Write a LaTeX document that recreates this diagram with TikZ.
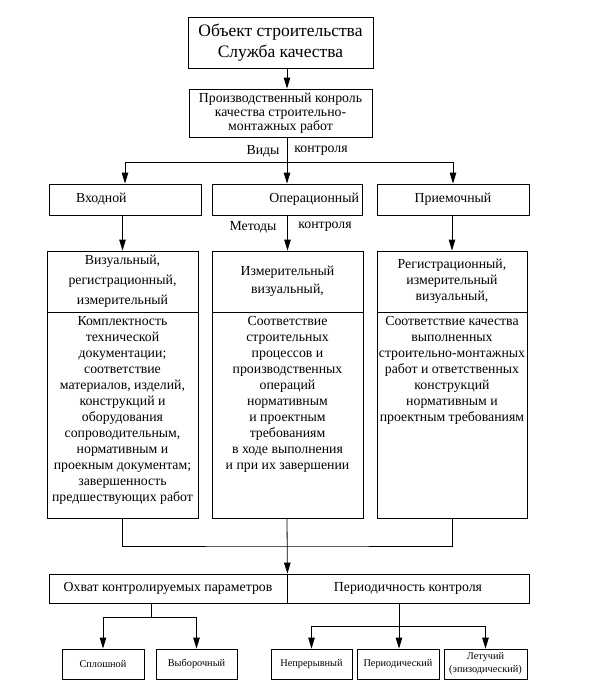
\documentclass[tikz,border=0pt]{standalone}
\usepackage{fontspec}
\setmainfont{Liberation Serif}
\usetikzlibrary{arrows.meta}

\tikzset{
  box/.style={draw, line width=0.8pt, inner sep=2pt, align=center,
    font=\fontsize{13.8}{16}\selectfont},
  txt/.style={inner sep=2pt, align=center, font=\fontsize{13.8}{16}\selectfont},
  small/.style={font=\fontsize{10.3}{12}\selectfont},
  lbl/.style={inner sep=1pt, font=\fontsize{13.8}{16}\selectfont},
  ln/.style={line width=0.8pt},
  arr/.style={line width=0.8pt, -{Triangle[length=11pt,width=6.5pt]}}
}

\begin{document}
\begin{tikzpicture}[x=1pt,y=-1pt]
\useasboundingbox (0,0) rectangle (599,696);

% guide points
\coordinate (ax) at (287,0);
\coordinate (vk) at (287,162);
\coordinate (sb) at (287,546);
\coordinate (c1) at (151,617);
\coordinate (c2) at (399,626);

% top boxes
\node[box, minimum width=185, minimum height=51,
  font=\fontsize{17.5}{21}\selectfont] (obj) at (280.5,42.5)
  {Объект строительства\\Служба качества};
\node[box, minimum width=183, minimum height=48, inner sep=1pt,
  font=\fontsize{13.8}{14}\selectfont] (pk) at (280.5,113)
  {Производственный конроль\\качества строительно-\\монтажных работ};

% kinds of control
\node[box, minimum width=152, minimum height=31,
  text width=148pt, align=left] (vhod) at (125,199.5) {\hspace*{25pt}Входной};
\node[box, minimum width=150, minimum height=31,
  text width=144pt, align=right] (oper) at (287,199.5) {Операционный};
\node[box, minimum width=152, minimum height=31] (pri) at (453,199.5) {Приемочный};

\node[lbl] (vidy) at (263,151) {Виды};
\node[lbl] (vidyk) at (321,151) {контроля};
\node[lbl] (met) at (253,227) {Методы};
\node[lbl] (metk) at (325,227) {контроля};

% methods
\node[box, minimum width=151, minimum height=61,
  font=\fontsize{13.8}{20}\selectfont] (vhodM) at (122.5,281.5)
  {Визуальный,\\регистрационный,\\измерительный};
\node[box, minimum width=151, minimum height=61,
  font=\fontsize{13.8}{18}\selectfont] (operM) at (287.5,281.5)
  {Измерительный\\визуальный,};
\node[box, minimum width=150, minimum height=61] (priM) at (452,281.5)
  {Регистрационный,\\измерительный\\визуальный,};

% contents
\node[box, minimum width=151, minimum height=206] (vhodC) at (122.5,415) {};
\node[box, minimum width=151, minimum height=206] (operC) at (287.5,415) {};
\node[box, minimum width=150, minimum height=206] (priC) at (452,415) {};

\node[txt, anchor=north, yshift=-3pt] (vhodT) at (vhodC.north)
  {Комплектность\\технической\\документации;\\соответствие\\материалов, изделий,\\
   конструкций и\\оборудования\\сопроводительным,\\нормативным и\\
   проекным документам;\\завершенность\\предшествующих работ};
\node[txt, anchor=north, yshift=-3pt] (operT) at (operC.north)
  {Соответствие\\строительных\\процессов и\\производственных\\операций\\
   нормативным\\и проектным\\требованиям\\в ходе выполнения\\и при их завершении};
\node[txt, anchor=north, yshift=-3pt] (priT) at (priC.north)
  {Соответствие качества\\выполненных\\строительно-монтажных\\работ и ответственных\\
   конструкций\\нормативным и\\проектным требованиям};

% parameters
\node[box, minimum width=238, minimum height=29] (ohv) at (168,588.5)
  {Охват контролируемых параметров};
\node[box, minimum width=242, minimum height=29] (per) at (408,588.5)
  {Периодичность контроля};

\node[box, small, minimum width=82, minimum height=30] (spl) at (103,664) {Сплошной};
\node[box, small, minimum width=81, minimum height=30] (vyb) at (196.5,664) {Выборочный};
\node[box, small, minimum width=81, minimum height=30] (nep) at (311.5,664) {Непрерывный};
\node[box, small, minimum width=82, minimum height=30] (prd) at (398,664) {Периодический};
\node[box, small, minimum width=83, minimum height=30,
  font=\fontsize{10.3}{13}\selectfont] (let) at (485.5,664) {Летучий\\(эпизодический)};

% connectors
\draw[arr] (obj.south -| ax) -- (pk.north -| ax);
\draw[ln] (pk.south -| ax) -- (vk);
\draw[arr] (vk) -| (vhod.north);
\draw[arr] (vk) -- (oper.north);
\draw[arr] (vk) -| (pri.north);

\draw[arr] (vhod.south -| vhodM) -- (vhodM.north);
\draw[arr] (oper.south -| operM) -- (operM.north);
\draw[arr] (pri.south -| priM) -- (priM.north);

\draw[ln] (vhodC.south) |- (sb) -| (priC.south);
\draw[arr] (operC.south -| ax) -- (ohv.north east);

\draw[ln] (ohv.south -| c1) -- (c1);
\draw[arr] (c1) -| (spl.north);
\draw[arr] (c1) -| (vyb.north);
\draw[ln] (per.south -| c2) -- (c2);
\draw[arr] (c2) -| (nep.north);
\draw[arr] (c2) -- (prd.north -| c2);
\draw[arr] (c2) -| (let.north);
\end{tikzpicture}
\end{document}
